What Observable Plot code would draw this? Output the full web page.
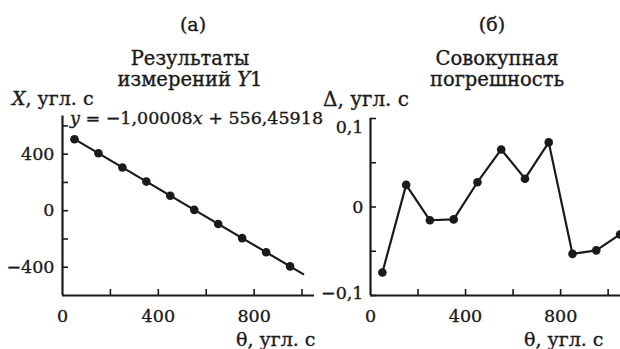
<!DOCTYPE html>
<html><head><meta charset="utf-8">
<script src="https://cdn.jsdelivr.net/npm/d3@7"></script>
<script src="https://cdn.jsdelivr.net/npm/@observablehq/plot@0.6"></script>
<style>
html,body{margin:0;padding:0;background:#fff;}
#wrap{position:relative;width:620px;height:349px;overflow:hidden;font-family:"DejaVu Serif",serif;color:#1a1a1a;}
.t{position:absolute;white-space:nowrap;font-size:18px;line-height:18px;-webkit-text-stroke:0.35px #1a1a1a;}
.c{transform:translateX(-50%);text-align:center;}
svg{position:absolute;top:0;overflow:visible;}
</style></head>
<body><div id="wrap">
<div class="t c" style="left:193px;top:15px;font-size:19px;">(а)</div>
<div class="t c" style="left:190px;top:50px;font-size:19.5px;">Результаты</div>
<div class="t c" style="left:190px;top:71px;font-size:19.5px;">измерений <i>Y</i>1</div>
<div class="t" style="left:12px;top:89px;font-size:19px;"><i>X</i>, угл. с</div>
<div class="t" style="left:70px;top:109px;font-size:17.5px;"><i>y</i> = −1,00008<i>x</i> + 556,45918</div>
<div class="t" style="left:236px;top:330px;font-size:19px;">θ, угл. с</div>
<div class="t c" style="left:492px;top:15px;font-size:19px;">(б)</div>
<div class="t c" style="left:497px;top:50px;font-size:19.5px;">Совокупная</div>
<div class="t c" style="left:497px;top:71px;font-size:19.5px;">погрешность</div>
<div class="t" style="left:323px;top:90px;font-size:20px;">Δ, угл. с</div>
<div class="t" style="left:524px;top:330px;font-size:19px;">θ, угл. с</div>
</div>
<script>
// Panel (a): measurement results Y1
const thetaA = [50,150,250,350,450,550,650,750,850,950];
const valuesA = [506,406,306,206,106,6,-94,-194,-294,-394];
const fitTheta = [50,1005];
const fitSlope = -1.00008, fitIntercept = 556.45918;
const xTicksMajor = [0,400,800];
const xTicksMinor = [200,400,600,800,1000];
const yTicksA = [-400,0,400];
const yTicksMinorA = [-400,-200,0,200,400,600];
// Panel (b): total error
const thetaB = [50,150,250,350,450,550,650,750,850,950,1050];
const deltaB = [-0.074,0.025,-0.015,-0.014,0.028,0.065,0.032,0.073,-0.053,-0.049,-0.031];
const yTicksB = [-0.1,0,0.1];
const yTicksMinorB = [-0.1,-0.05,0,0.05,0.1];

const ink = "#1a1a1a";
const fontStyle = {fontFamily:"DejaVu Serif, serif", fontSize:"17.5px", color:ink, background:"transparent"};
const fmtA = d => d < 0 ? "−" + Math.abs(d) : String(d);
const fmtB = d => (d < 0 ? "−" : "") + String(Math.abs(d)).replace(".", ",");
const txt = {fill:ink, stroke:ink, strokeWidth:0.35};

const ptsA = thetaA.map((t,i)=>({t, v: valuesA[i]}));
const fitA = fitTheta.map(t=>({t, v: fitSlope*t + fitIntercept}));
const ptsB = thetaB.map((t,i)=>({t, v: deltaB[i]}));

// inward tick length (6px) expressed in each panel's data units
const tickLenXA = 6 * 1052 / 252, tickLenYA = 6 * 1270 / 179.5;
const plotA = Plot.plot({
  width:320, height:349, marginLeft:62, marginRight:6, marginTop:115.5, marginBottom:54,
  style: fontStyle,
  x:{domain:[0,1052], axis:null}, y:{domain:[-600,670], axis:null},
  marks:[
    Plot.ruleX(xTicksMinor, {x:d=>d, y1:-600, y2:-600 + tickLenYA, stroke:ink, strokeWidth:1.6}),
    Plot.ruleY(yTicksMinorA, {y:d=>d, x1:0, x2:tickLenXA, stroke:ink, strokeWidth:1.6}),
    Plot.ruleX([0], {stroke:ink, strokeWidth:2.2}),
    Plot.ruleY([-600], {stroke:ink, strokeWidth:2.2}),
    Plot.text(xTicksMajor, {x:d=>d, y:-600, text:fmtA, dy:21, ...txt}),
    Plot.text(yTicksA, {x:0, y:d=>d, text:fmtA, textAnchor:"end", dx:-8, ...txt}),
    Plot.line(fitA, {x:"t", y:"v", stroke:ink, strokeWidth:2.2}),
    Plot.dot(ptsA, {x:"t", y:"v", r:4.3, fill:ink})
  ]
});
plotA.style.left = "0px";

const tickLenXB = 6 * 1052 / 250, tickLenYB = 6 * 0.2 / 177;
const plotB = Plot.plot({
  width:320, height:349, marginLeft:70, marginRight:0, marginTop:118, marginBottom:54,
  style: fontStyle,
  x:{domain:[0,1052], axis:null}, y:{domain:[-0.1,0.1], axis:null},
  marks:[
    Plot.ruleX(xTicksMinor, {x:d=>d, y1:-0.1, y2:-0.1 + tickLenYB, stroke:ink, strokeWidth:1.6}),
    Plot.ruleY(yTicksMinorB, {y:d=>d, x1:0, x2:tickLenXB, stroke:ink, strokeWidth:1.6}),
    Plot.ruleX([0], {stroke:ink, strokeWidth:2.2}),
    Plot.ruleY([-0.1], {stroke:ink, strokeWidth:2.2}),
    Plot.text(xTicksMajor, {x:d=>d, y:-0.1, text:fmtA, dy:21, ...txt}),
    Plot.text([0], {x:0, y:d=>d, text:fmtB, textAnchor:"end", dx:-7, ...txt}),
    Plot.text([0.1], {x:0, y:d=>d, text:fmtB, textAnchor:"end", dx:-7, dy:9, ...txt}),
    Plot.text([-0.1], {x:0, y:d=>d, text:fmtB, textAnchor:"end", dx:-7, dy:-2, ...txt}),
    Plot.line(ptsB, {x:"t", y:"v", stroke:ink, strokeWidth:2.2}),
    Plot.dot(ptsB, {x:"t", y:"v", r:4.3, fill:ink})
  ]
});
plotB.style.left = "300px";

const wrap = document.getElementById("wrap");
wrap.prepend(plotB);
wrap.prepend(plotA);
</script>
</body></html>
